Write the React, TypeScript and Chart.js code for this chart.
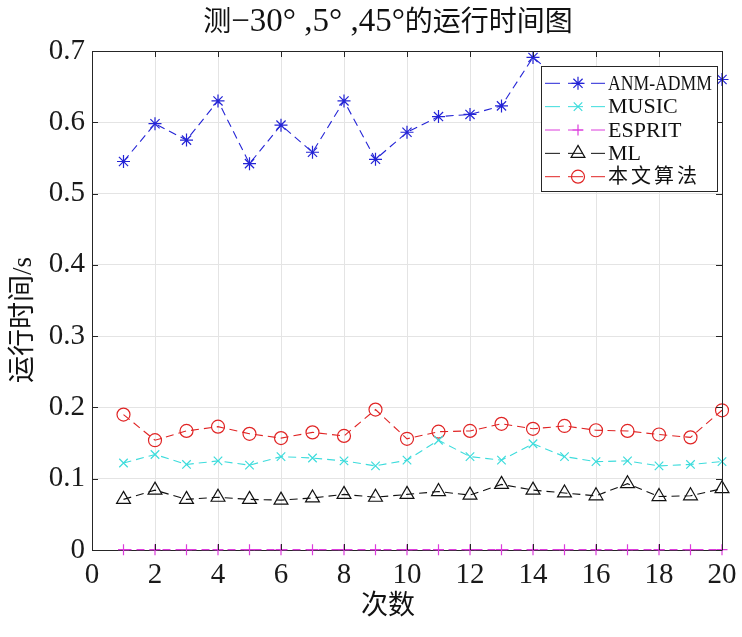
import React, { useEffect, useRef } from 'react';
import { Chart, registerables } from 'chart.js';
import { drawPoint } from 'chart.js/helpers';

Chart.register(...registerables);

// ---------- data ----------
const runs = [1, 2, 3, 4, 5, 6, 7, 8, 9, 10, 11, 12, 13, 14, 15, 16, 17, 18, 19, 20];
const anmAdmm = [0.545, 0.598, 0.575, 0.630, 0.542, 0.596, 0.558, 0.630, 0.548, 0.586, 0.608, 0.611, 0.623, 0.691, 0.655, 0.640, 0.662, 0.648, 0.670, 0.660];
const music = [0.122, 0.134, 0.120, 0.125, 0.119, 0.131, 0.129, 0.125, 0.118, 0.126, 0.154, 0.131, 0.126, 0.149, 0.131, 0.124, 0.125, 0.118, 0.120, 0.124];
const esprit = [0.0005, 0.0005, 0.0005, 0.0005, 0.0005, 0.0005, 0.0005, 0.0005, 0.0005, 0.0005, 0.0005, 0.0005, 0.0005, 0.0005, 0.0005, 0.0005, 0.0005, 0.0005, 0.0005, 0.0005];
const ml = [0.071, 0.084, 0.071, 0.074, 0.071, 0.070, 0.073, 0.078, 0.074, 0.078, 0.082, 0.077, 0.092, 0.084, 0.080, 0.076, 0.093, 0.075, 0.076, 0.086];
const proposed = [0.190, 0.154, 0.167, 0.173, 0.163, 0.157, 0.165, 0.160, 0.197, 0.156, 0.166, 0.167, 0.177, 0.170, 0.174, 0.168, 0.167, 0.162, 0.158, 0.196];

const seriesLabels = ['ANM-ADMM', 'MUSIC', 'ESPRIT', 'ML', '本文算法'];
const seriesValues = [anmAdmm, music, esprit, ml, proposed];

const titleText = '测−30° ,5° ,45°的运行时间图';
const xTitle = '次数';
const yTitle = '运行时间/s';

// ---------- styles ----------
const seriesStyles = [
  { color: '#2424d6', point: 'star', radius: 6.5 },
  { color: '#3ddcdc', point: 'crossRot', radius: 6 },
  { color: '#dc3cdc', point: 'cross', radius: 5.5 },
  { color: '#111111', point: 'triangle', radius: 8 },
  { color: '#e02424', point: 'circle', radius: 6.5 },
];

const SERIF = '"Liberation Serif", "Noto Sans CJK SC", serif';
const CJK = '"Noto Sans CJK SC", "Liberation Serif", sans-serif';
const isCJKChar = (c: string) => /[\u4e00-\u9fff]/.test(c);

function drawMixed(ctx: CanvasRenderingContext2D, text: string, cx: number, baseY: number, latinSize: number, cjkSize: number) {
  // split into runs of CJK / non-CJK
  const parts: { t: string; cjk: boolean }[] = [];
  for (const ch of text) {
    const c = isCJKChar(ch);
    if (parts.length && parts[parts.length - 1].cjk === c) parts[parts.length - 1].t += ch;
    else parts.push({ t: ch, cjk: c });
  }
  const fontFor = (p: { cjk: boolean }) => (p.cjk ? cjkSize + 'px ' + CJK : latinSize + 'px ' + SERIF);
  let total = 0;
  const widths = parts.map((p) => {
    ctx.font = fontFor(p);
    const w = ctx.measureText(p.t).width;
    total += w;
    return w;
  });
  let x = cx - total / 2;
  ctx.textAlign = 'left';
  ctx.textBaseline = 'alphabetic';
  parts.forEach((p, i) => {
    ctx.font = fontFor(p);
    ctx.fillText(p.t, x, baseY);
    x += widths[i];
  });
}

const decorPlugin = {
  id: 'decor',
  afterDraw(chart: any) {
    const ctx: CanvasRenderingContext2D = chart.ctx;
    const { left, right, top, bottom } = chart.chartArea;
    const xs = chart.scales.x;
    const ys = chart.scales.y;
    ctx.save();
    // top & right border
    ctx.strokeStyle = '#262626';
    ctx.lineWidth = 1;
    ctx.beginPath();
    ctx.moveTo(left, top + 0.5);
    ctx.lineTo(right + 0.5, top + 0.5);
    ctx.lineTo(right + 0.5, bottom);
    ctx.stroke();
    // inward ticks
    const tl = 6;
    ctx.beginPath();
    xs.ticks.forEach((t: any) => {
      const px = Math.round(xs.getPixelForValue(t.value)) + 0.5;
      ctx.moveTo(px, bottom);
      ctx.lineTo(px, bottom - tl);
      ctx.moveTo(px, top);
      ctx.lineTo(px, top + tl);
    });
    ys.ticks.forEach((t: any) => {
      const py = Math.round(ys.getPixelForValue(t.value)) + 0.5;
      ctx.moveTo(left, py);
      ctx.lineTo(left + tl, py);
      ctx.moveTo(right, py);
      ctx.lineTo(right - tl, py);
    });
    ctx.stroke();

    // titles
    ctx.fillStyle = '#111';
    drawMixed(ctx, titleText, 388, 30.5, 33, 28);
    ctx.textAlign = 'center';
    ctx.textBaseline = 'middle';
    ctx.font = '27px ' + SERIF;
    ctx.fillText(xTitle, 388, 607);
    ctx.save();
    ctx.translate(24, 320);
    ctx.rotate(-Math.PI / 2);
    ctx.fillText(yTitle, 0, 0);
    ctx.restore();

    // legend
    const bx = 541.5, by = 66.5, bw = 176, bh = 125;
    ctx.fillStyle = '#ffffff';
    ctx.fillRect(bx, by, bw, bh);
    ctx.strokeStyle = '#262626';
    ctx.lineWidth = 1;
    ctx.strokeRect(bx, by, bw, bh);
    chart.data.datasets.forEach((ds: any, i: number) => {
      const st = seriesStyles[i];
      const ry = 83.3 + i * 23.35;
      ctx.strokeStyle = st.color;
      ctx.lineWidth = 1;
      ctx.setLineDash([15, 8]);
      ctx.beginPath();
      ctx.moveTo(545, ry);
      ctx.lineTo(605, ry);
      ctx.stroke();
      ctx.setLineDash([]);
      ctx.fillStyle = 'rgba(0,0,0,0)';
      ctx.lineWidth = 1.2;
      drawPoint(ctx, { pointStyle: st.point, radius: st.radius, rotation: 0, borderWidth: 1.2 } as any, 578, ry);
      ctx.fillStyle = '#111';
      ctx.textAlign = 'left';
      ctx.textBaseline = 'middle';
      const cjk = /[\u4e00-\u9fff]/.test(ds.label);
      if (cjk) {
        ctx.font = '20px ' + SERIF;
        (ctx as any).letterSpacing = '3px';
      } else {
        ctx.font = '22px ' + SERIF;
        (ctx as any).letterSpacing = '0px';
      }
      ctx.fillText(ds.label, 608, ry + 1, 104);
      (ctx as any).letterSpacing = '0px';
    });
    ctx.restore();
  },
};

export default function App() {
  const ref = useRef<HTMLCanvasElement | null>(null);
  useEffect(() => {
    if (!ref.current) return;
    const datasets = seriesLabels.map((label, i) => {
      const st = seriesStyles[i];
      return {
        label,
        data: runs.map((x, j) => ({ x, y: seriesValues[i][j] })),
        borderColor: st.color,
        backgroundColor: 'rgba(0,0,0,0)',
        borderWidth: 1.1,
        borderDash: [8, 5],
        pointStyle: st.point,
        pointRadius: st.radius,
        pointBorderColor: st.color,
        pointBackgroundColor: 'rgba(0,0,0,0)',
        pointBorderWidth: 1.2,
        fill: false,
        tension: 0,
        clip: false,
      };
    });
    const tickFont = { family: SERIF, size: 29 };
    const chart = new Chart(ref.current, {
      type: 'line',
      data: { datasets } as any,
      options: {
        animation: false,
        responsive: true,
        maintainAspectRatio: false,
        layout: { padding: { left: 0, top: 51, right: 20, bottom: 0 } },
        plugins: {
          legend: { display: false },
          title: { display: false },
          tooltip: { enabled: false },
        },
        scales: {
          x: {
            type: 'linear',
            min: 0,
            max: 20,
            ticks: { stepSize: 2, font: tickFont, color: '#1a1a1a', padding: 8, maxRotation: 0, autoSkip: false },
            grid: { color: '#e4e4e4', drawTicks: false },
            border: { color: '#262626', width: 1 },
            afterFit(s: any) {
              s.height = 87;
              s.paddingLeft = 0;
              s.paddingRight = 0;
            },
          },
          y: {
            type: 'linear',
            min: 0,
            max: 0.7,
            ticks: {
              stepSize: 0.1,
              font: tickFont,
              color: '#1a1a1a',
              padding: 7,
              callback: (v: any) => (Number(v) === 0 ? '0' : Number(v).toFixed(1)),
            },
            grid: { color: '#e4e4e4', drawTicks: false },
            border: { color: '#262626', width: 1 },
            afterFit(s: any) {
              s.width = 92;
              s.paddingTop = 0;
              s.paddingBottom = 0;
            },
          },
        },
      } as any,
      plugins: [decorPlugin],
    });
    return () => chart.destroy();
  }, []);
  return (
    <div style={{ position: 'fixed', left: 0, top: 0, width: 742, height: 637, background: '#fff' }}>
      <canvas ref={ref} style={{ display: 'block' }} />
    </div>
  );
}
